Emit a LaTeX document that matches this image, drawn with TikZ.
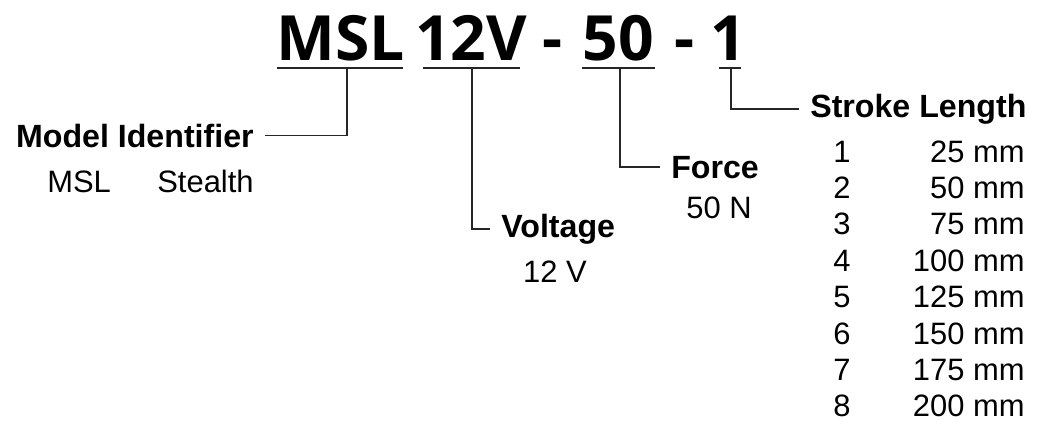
\documentclass[tikz,border=0pt]{standalone}
\usepackage{fontspec}
\setmainfont{Liberation Sans}
\newfontfamily\codefont{Open Sans}
\usetikzlibrary{positioning}

\tikzset{
	code/.style = {font=\codefont\bfseries\fontsize{35.5}{40}\selectfont, inner sep=0pt, anchor=base},
	head/.style = {font=\fontsize{18.3}{22}\selectfont\bfseries, inner xsep=11pt*0.567, inner ysep=0pt},
	item/.style = {font=\fontsize{17.6}{21}\selectfont, inner sep=0pt},
	uline/.style = {line width=1.5pt, black!85},
	conn/.style = {line width=1.1pt, black!85}
}

\begin{document}
\begin{tikzpicture}[x=0.02cm, y=-0.02cm, line cap=butt, line join=miter]
			\useasboundingbox (0,0) rectangle (1038,430);
			% part number
			\node[code] (msl) at (341,60) {MSL};
			\node[code] (volt) at (471,60) {12V};
			\node[code] (dasha) at (553,60) {-};
			\node[code] (frc) at (618,60) {50};
			\node[code] (dashb) at (685,60) {-};
			\node[code] (strk) at (728,60) {1};
			% underlines
			\coordinate (mslL) at (277,68);
			\coordinate (mslR) at (403,68);
			\coordinate (voltL) at (423,68);
			\coordinate (voltR) at (520,68);
			\coordinate (frcL) at (582,68);
			\coordinate (frcR) at (655,68);
			\coordinate (strkL) at (719,68);
			\coordinate (strkR) at (741,68);
			\draw[uline] (mslL) -- (mslR);
			\draw[uline] (voltL) -- (voltR);
			\draw[uline] (frcL) -- (frcR);
			\draw[uline] (strkL) -- (strkR);
			% labels
			\node[head, anchor=base east] (modelid) at (265,147) {Model Identifier};
			\node[item, anchor=base west] (mslcode) at (47,192) {MSL};
			\node[item, anchor=base west] (mslname) at (157,192) {Stealth};
			\node[head, anchor=base west] (voltage) at (490,237) {Voltage};
			\node[item, anchor=base] (voltval) at (555,282) {12 V};
			\node[head, anchor=base west] (force) at (660,178) {Force};
			\node[item, anchor=base] (forceval) at (719,218) {50 N};
			\node[head, anchor=base west] (stroke) at (799,117) {Stroke Length};
			% stroke table
			\foreach \n/\len in {1/25, 2/50, 3/75, 4/100, 5/125, 6/150, 7/175, 8/200} {
				\node[item, anchor=base west] (num\n) at (833,{162+(\n-1)*36.4}) {\n};
				\node[item, anchor=base east] (len\n) at (1025,{162+(\n-1)*36.4}) {\len{} mm};
			}
			% connectors
			\coordinate (mslU) at (347,68);
			\coordinate (voltU) at (472,68);
			\coordinate (frcU) at (620,68);
			\coordinate (strkU) at (731,68);
			\draw[conn] (mslU) |- (modelid.east);
			\draw[conn] (voltU) |- (voltage.west);
			\draw[conn] (frcU) |- (force.west);
			\draw[conn] (strkU) |- (stroke.west);
		\end{tikzpicture}
\end{document}
